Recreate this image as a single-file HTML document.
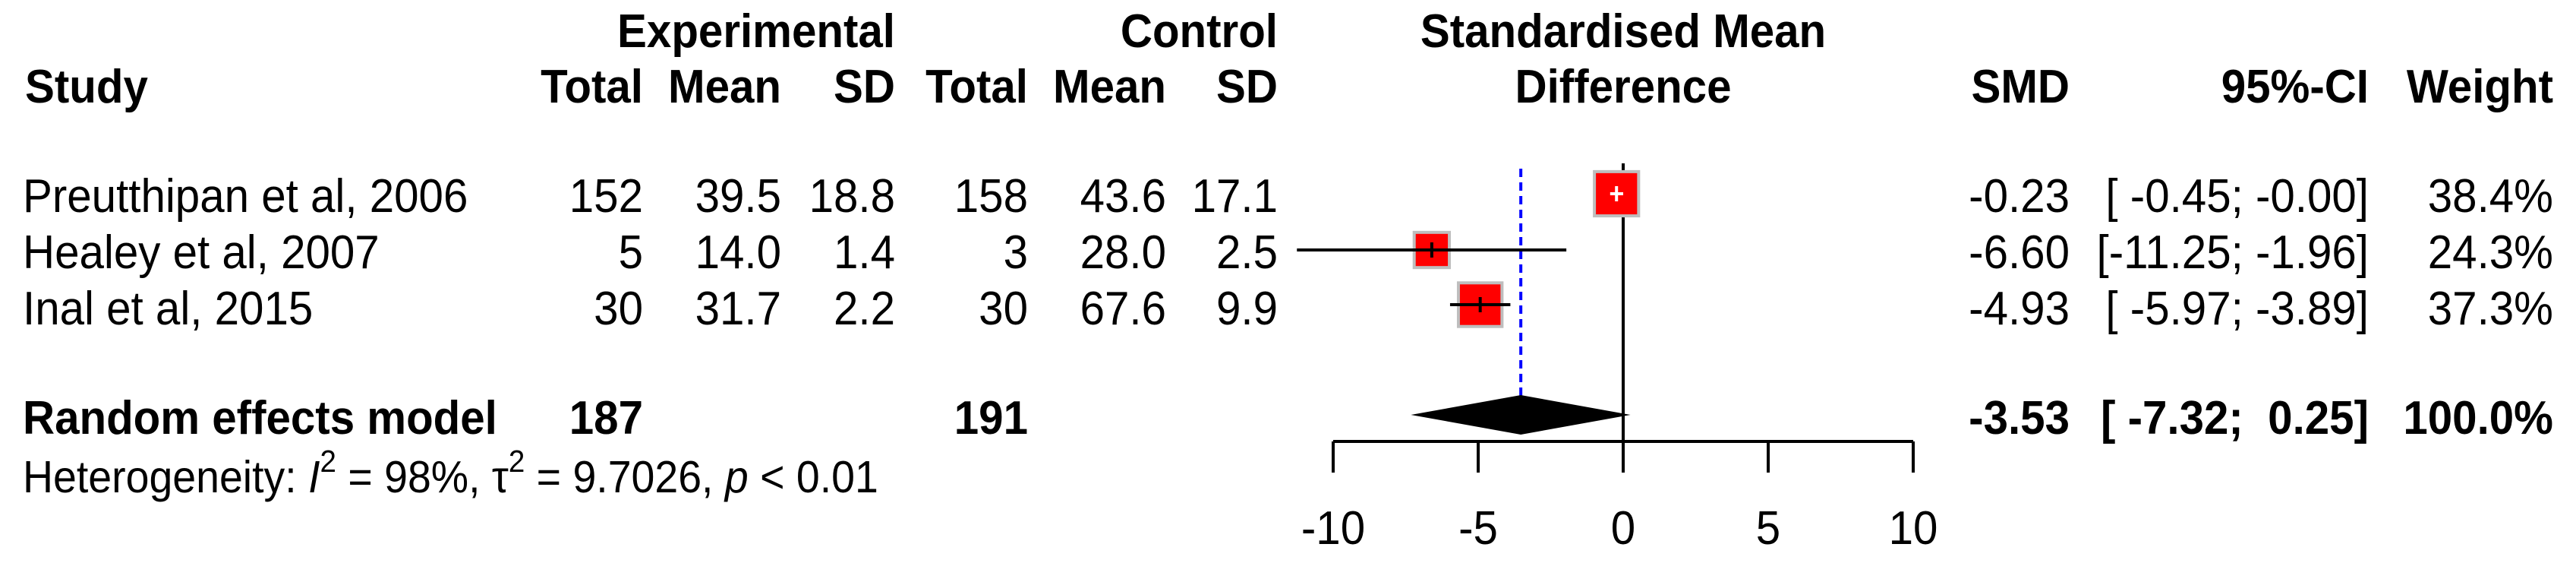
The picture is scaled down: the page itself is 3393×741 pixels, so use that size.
<!DOCTYPE html>
<html><head><meta charset="utf-8"><style>
html,body{margin:0;padding:0;background:#fff;}
svg{display:block;font-family:"Liberation Sans",Arial,sans-serif;}
</style></head><body>
<svg id="c" width="3393" height="741" viewBox="0 0 3393 741"></svg>
<script>
const studies = ["Preutthipan et al, 2006","Healey et al, 2007","Inal et al, 2015"];
const expTotal = ["152","5","30"];
const expMean = ["39.5","14.0","31.7"];
const expSD = ["18.8","1.4","2.2"];
const ctlTotal = ["158","3","30"];
const ctlMean = ["43.6","28.0","67.6"];
const ctlSD = ["17.1","2.5","9.9"];
const smd = [-0.23,-6.60,-4.93];
const ciLow = [-0.45,-11.25,-5.97];
const ciHigh = [-0.00,-1.96,-3.89];
const weight = [38.4,24.3,37.3];
const pooled = [-3.53,-7.32,0.25];
const pooledTotals = ["187","191"];
const ticks = [-10,-5,0,5,10];

const NS="http://www.w3.org/2000/svg";
const svg=document.getElementById('c');
const X0=2138, UNIT=38.2;
function xs(v){return X0+v*UNIT;}
const rowY=[255,329,401];
const rowBase=[279,353,427];
function fmt(v){return (Object.is(v,-0)?"-":"")+v.toFixed(2);}
function el(tag,attrs){const e=document.createElementNS(NS,tag);for(const k in attrs)e.setAttribute(k,attrs[k]);svg.appendChild(e);return e;}
function txt(x,y,s,anchor,bold,size){
  const t=el('text',{transform:`translate(${x},${y}) scale(0.94,1)`,'text-anchor':anchor||'start','font-size':size||62,'font-weight':bold?'bold':'normal',fill:'#000'});
  t.textContent=s;return t;
}
let t;
t=txt(1179,62,"Experimental","end",true);

t=txt(1683,62,"Control","end",true);

t=txt(2138,62,"Standardised Mean","middle",true);

t=txt(2138,135,"Difference","middle",true);

t=txt(33,135,"Study","start",true);

const hdr=[[847,"Total"],[1029,"Mean"],[1179,"SD"],[1354,"Total"],[1536,"Mean"],[1683,"SD"],[2726,"SMD"],[3120,"95%-CI"],[3363,"Weight"]];
hdr.forEach(h=>{t=txt(h[0],135,h[1],"end",true);

});

let e=el('line',{x1:xs(0),x2:xs(0),y1:215,y2:581,stroke:'#000','stroke-width':4});

e=el('line',{x1:xs(pooled[0]),x2:xs(pooled[0]),y1:222,y2:522,stroke:'#0000ff','stroke-width':4,'stroke-dasharray':'11,7'});


studies.forEach((s,i)=>{
  const y=rowY[i], b=rowBase[i];
  const cols=[[847,expTotal[i]],[1029,expMean[i]],[1179,expSD[i]],[1354,ctlTotal[i]],[1536,ctlMean[i]],[1683,ctlSD[i]]];
  let tt=txt(30,b,s,"start",false);
  
  
  cols.forEach(c=>{tt=txt(c[0],b,c[1],"end",false);
    
    });
  tt=txt(2726,b,fmt(smd[i]),"end",false);
  
  
  const lo=fmt(ciLow[i]).padStart(6,' '), hi=fmt(ciHigh[i]).padStart(5,' ');
  tt=txt(3120,b,"["+lo+"; "+hi+"]","end",false);
  tt.style.whiteSpace='pre';
  
  
  tt=txt(3363,b,weight[i].toFixed(1)+"%","end",false);
  
  
  const sz=9.4*Math.sqrt(weight[i]);
  const sq=el('rect',{x:xs(smd[i])-sz/2,y:y-sz/2,width:sz,height:sz,fill:'#ff0000',stroke:'#bebebe','stroke-width':4});
  
  
  const l=xs(ciLow[i]), r=xs(ciHigh[i]);
  const inside = l>xs(smd[i])-sz/2 && r<xs(smd[i])+sz/2;
  const col=inside?'#fff':'#000';
  const ci=el('line',{x1:l,x2:r,y1:y,y2:y,stroke:col,'stroke-width':4});
  
  
  const tk=el('line',{x1:xs(smd[i]),x2:xs(smd[i]),y1:y-10,y2:y+10,stroke:col,'stroke-width':4});
  
  
});

t=txt(30,571,"Random effects model","start",true);

t=txt(847,571,pooledTotals[0],"end",true);

t=txt(1354,571,pooledTotals[1],"end",true);

t=txt(2726,571,fmt(pooled[0]),"end",true);

t=txt(3120,571,"[ "+fmt(pooled[1])+";  "+fmt(pooled[2])+"]","end",true);
t.style.whiteSpace='pre';

t=txt(3363,571,"100.0%","end",true);

const dy=546;
e=el('polygon',{points:`${xs(pooled[1])},${dy} ${xs(pooled[0])},${dy-26} ${xs(pooled[2])},${dy} ${xs(pooled[0])},${dy+26}`,fill:'#000'});


const h=el('text',{transform:'translate(30,648) scale(0.94,1)','font-size':59,fill:'#000'});


h.innerHTML='Heterogeneity: <tspan font-style="italic">I</tspan><tspan dy="-27" font-size="41">2</tspan><tspan dy="27"> = 98%, τ</tspan><tspan dy="-27" font-size="41">2</tspan><tspan dy="27"> = 9.7026, </tspan><tspan font-style="italic">p</tspan> &lt; 0.01';

e=el('line',{x1:xs(ticks[0]),x2:xs(ticks[ticks.length-1]),y1:581,y2:581,stroke:'#000','stroke-width':4});

ticks.forEach(v=>{
  const tl=el('line',{x1:xs(v),x2:xs(v),y1:581,y2:622,stroke:'#000','stroke-width':4});
  
  
  const lb=txt(xs(v),716,String(v),"middle",false);
  
  
});
</script>
</body></html>
